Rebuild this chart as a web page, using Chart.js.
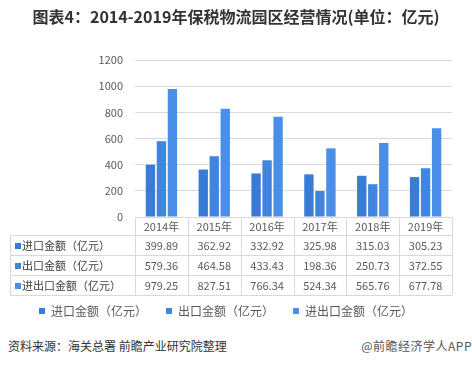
<!DOCTYPE html>
<html>
<head>
<meta charset="utf-8">
<script src="https://cdn.jsdelivr.net/npm/chart.js@4.4.1/dist/chart.umd.min.js"></script>
<style>
  html, body { margin: 0; padding: 0; background: #fff; }
  #wrap { position: relative; width: 472px; height: 366px; overflow: hidden; font-family: 'Noto Sans CJK SC', sans-serif; }
  #title { position: absolute; left: 0; top: 6px; width: 472px; text-align: center; font-size: 16px; line-height: 20px; font-weight: bold; color: #333; }
  #src { position: absolute; left: 8px; top: 338px; font-size: 12px; line-height: 16px; color: #333; }
  #brand { position: absolute; right: 0; top: 338px; font-size: 12px; line-height: 16px; color: #555; letter-spacing: 0.5px; }
  canvas { position: absolute; left: 0; top: 0; }
</style>
</head>
<body>
<div id="wrap">
  <canvas id="chart" width="472" height="330"></canvas>
  <div id="title">图表4：2014-2019年保税物流园区经营情况(单位：亿元)</div>
  <div id="src">资料来源：海关总署 前瞻产业研究院整理</div>
  <div id="brand">@前瞻经济学人APP</div>
</div>
<script>
// ===== 数据 =====
const years = ['2014年', '2015年', '2016年', '2017年', '2018年', '2019年'];
const importVals = [399.89, 362.92, 332.92, 325.98, 315.03, 305.23];
const exportVals = [579.36, 464.58, 433.43, 198.36, 250.73, 372.55];
const totalVals = [979.25, 827.51, 766.34, 524.34, 565.76, 677.78];
const seriesNames = ['进口金额（亿元）', '出口金额（亿元）', '进出口金额（亿元）'];
const seriesColors = ['#3a7bd5', '#4285e0', '#4a8fe7'];

const FONT = "'Noto Sans CJK SC', 'Noto Sans', sans-serif";
Chart.defaults.font.family = FONT;
Chart.defaults.color = '#595959';

// 图表下方的数据表
const tablePlugin = {
    id: 'dataTable',
    afterDraw(chart) {
        const { ctx, chartArea, scales: { x } } = chart;
        const top = chartArea.bottom;
        const headH = 18, rowH = 20, left = 10;
        const colW = (x.right - x.left) / years.length;
        const rowsTop = top + headH;
        const bottom = rowsTop + rowH * chart.data.datasets.length;

        ctx.save();
        ctx.strokeStyle = '#d9d9d9';
        ctx.lineWidth = 1;
        ctx.beginPath();
        for (let r = 0; r <= chart.data.datasets.length; r++) {
            const yy = Math.round(rowsTop + r * rowH) + 0.5;
            ctx.moveTo(left, yy);
            ctx.lineTo(x.right, yy);
        }
        for (let c = 0; c <= years.length; c++) {
            const xx = Math.round(x.left + c * colW) + 0.5;
            ctx.moveTo(xx, top);
            ctx.lineTo(xx, bottom);
        }
        ctx.moveTo(left + 0.5, rowsTop);
        ctx.lineTo(left + 0.5, bottom);
        ctx.stroke();

        ctx.font = '11px ' + FONT;
        ctx.textBaseline = 'middle';
        ctx.textAlign = 'center';
        ctx.fillStyle = '#595959';
        years.forEach((yr, i) => ctx.fillText(yr, x.getPixelForValue(i), top + headH / 2 + 1));

        chart.data.datasets.forEach((ds, r) => {
            const cy = rowsTop + r * rowH + rowH / 2 + 1;
            ctx.textAlign = 'center';
            ctx.fillStyle = '#595959';
            ds.data.forEach((v, i) => ctx.fillText(v.toFixed(2), x.getPixelForValue(i), cy));
            ctx.fillStyle = ds.backgroundColor;
            ctx.fillRect(15, cy - 3, 6, 6);
            ctx.textAlign = 'left';
            ctx.fillStyle = '#404040';
            ctx.fillText(ds.label, 22, cy);
        });
        ctx.restore();
    }
};

new Chart(document.getElementById('chart'), {
    type: 'bar',
    data: {
        labels: years,
        datasets: [
            { label: seriesNames[0], data: importVals, backgroundColor: seriesColors[0] },
            { label: seriesNames[1], data: exportVals, backgroundColor: seriesColors[1] },
            { label: seriesNames[2], data: totalVals, backgroundColor: seriesColors[2] }
        ]
    },
    options: {
        responsive: false,
        animation: false,
        layout: { padding: { top: 60, right: 20, left: 0, bottom: 3 } },
        datasets: { bar: { categoryPercentage: 0.625, barPercentage: 0.85, borderWidth: 0 } },
        plugins: {
            tooltip: { enabled: false },
            legend: {
                position: 'bottom',
                labels: {
                    usePointStyle: true, pointStyle: 'rect', pointStyleWidth: 6,
                    boxWidth: 6, boxHeight: 6, padding: 19, color: '#595959', font: { size: 12 }
                }
            }
        },
        scales: {
            x: {
                ticks: { display: false },
                grid: { display: false },
                border: { display: false },
                afterFit(scale) { scale.height = 69; }
            },
            y: {
                min: 0,
                max: 1200,
                ticks: { stepSize: 200, padding: 12, color: '#595959', font: { size: 11 }, callback: v => String(v) },
                grid: { color: '#d9d9d9', drawTicks: false },
                border: { display: false },
                afterFit(scale) { scale.width = 135; }
            }
        }
    },
    plugins: [tablePlugin]
});
</script>
</body>
</html>
